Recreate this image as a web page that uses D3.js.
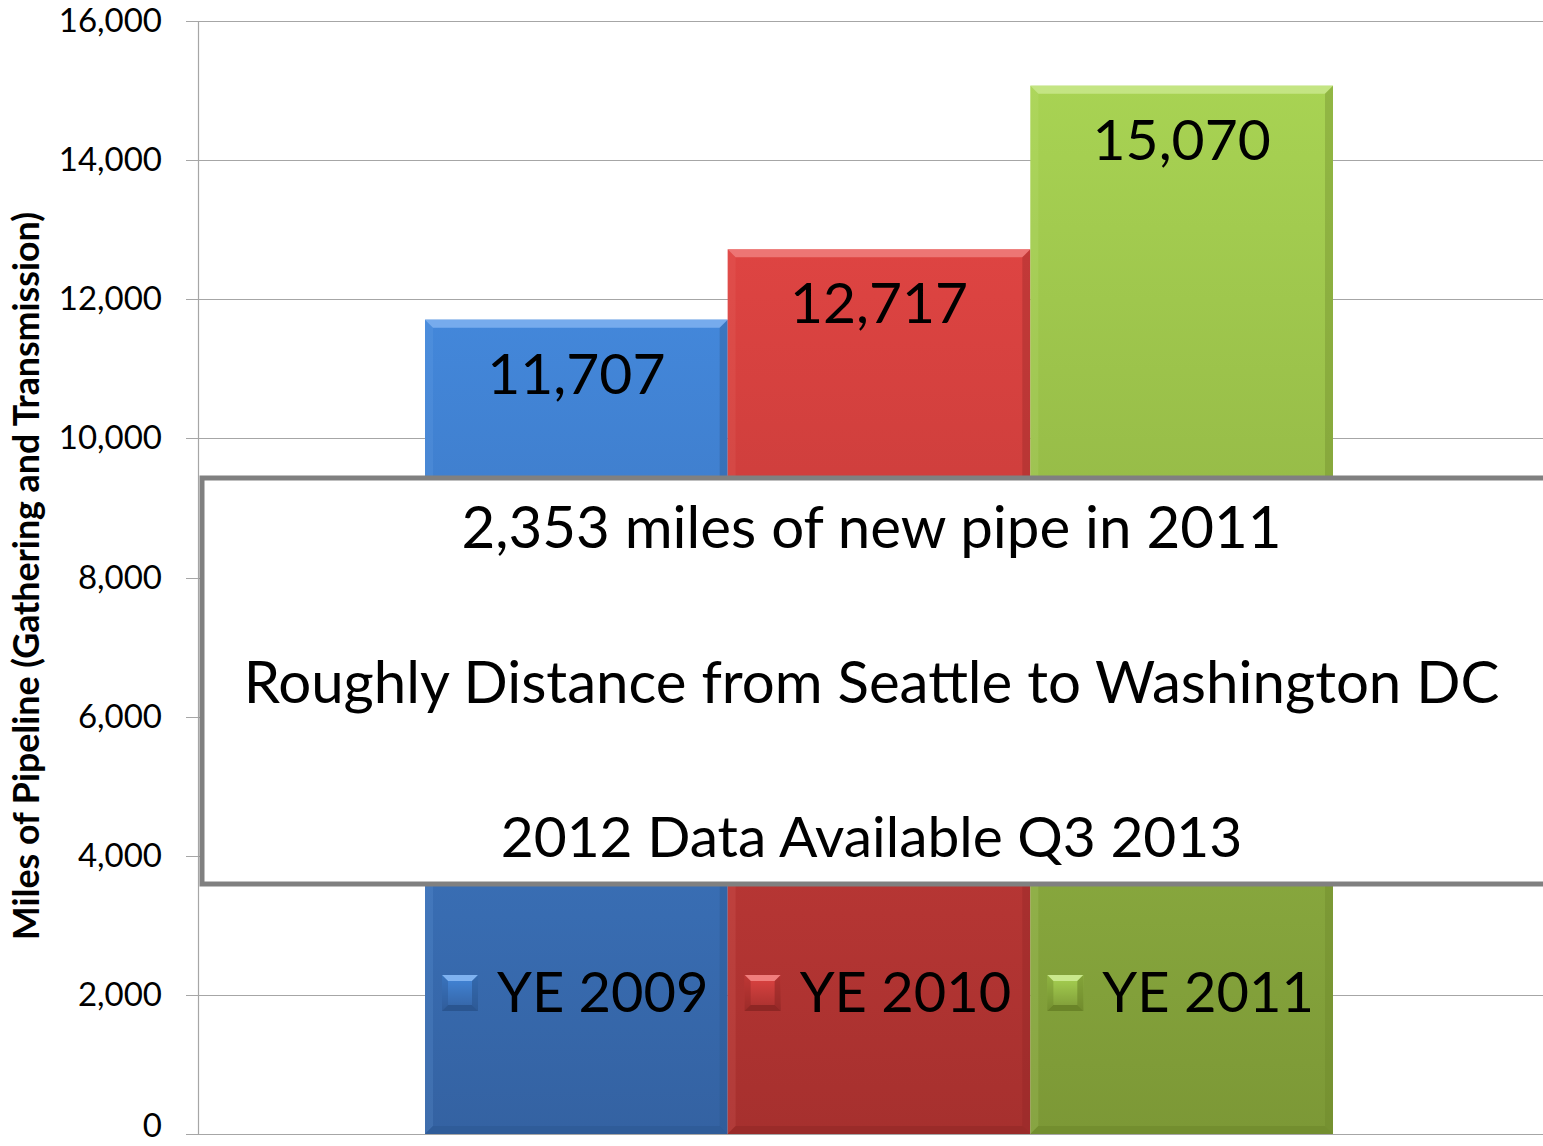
<html>
<head>
<meta charset="utf-8">
<style>
  body { margin: 0; background: #fff; }
  text { font-family: 'Lato', 'Open Sans', sans-serif; }
</style>
</head>
<body>
<svg id="svg"></svg>
<script src="https://cdnjs.cloudflare.com/ajax/libs/d3/7.8.5/d3.min.js"></script>
<script>

const series = ["YE 2009", "YE 2010", "YE 2011"];
const values = [11707, 12717, 15070];
const yTicks = [0, 2000, 4000, 6000, 8000, 10000, 12000, 14000, 16000];
const noteLines = ["2,353 miles of new pipe in 2011", "Roughly Distance from Seattle to Washington DC", "2012 Data Available Q3 2013"];
const yTitle = "Miles of Pipeline (Gathering and Transmission)";

// top / bottom / light / dark
const colors = [
  { top: "#4387da", bot: "#3462a2", light: "#7fb2f0", dark: "#2a5590" },
  { top: "#de4442", bot: "#a6302e", light: "#f07e7c", dark: "#8e2624" },
  { top: "#a8d353", bot: "#7c9836", light: "#c9e88c", dark: "#6a8428" }
];

const W = 1543, H = 1146;
const plotLeft = 198, plotRight = 1543, plotTop = 21, plotBottom = 1134;

const svg = d3.select("#svg").attr("width", W).attr("height", H);
const defs = svg.append("defs");

colors.forEach(function(c, i) {
  const g = defs.append("linearGradient").attr("id", "grad" + i)
    .attr("x1", 0).attr("y1", 0).attr("x2", 0).attr("y2", 1);
  g.append("stop").attr("offset", "0%").attr("stop-color", c.top);
  g.append("stop").attr("offset", "100%").attr("stop-color", c.bot);
});

const yScale = d3.scaleLinear().domain([0, 16000]).range([plotBottom, plotTop]);
const xScale = d3.scaleBand().domain(series).range([425, 1333]).padding(0);

// gridlines
svg.append("g").selectAll("line").data(yTicks).enter().append("line")
  .attr("x1", plotLeft - 12).attr("x2", plotRight)
  .attr("y1", function(d) { return Math.round(yScale(d)) + 0.5; })
  .attr("y2", function(d) { return Math.round(yScale(d)) + 0.5; })
  .attr("stroke", "#a6a6a6").attr("stroke-width", 1.2);

svg.append("line")
  .attr("x1", plotLeft + 0.5).attr("x2", plotLeft + 0.5)
  .attr("y1", yScale(16000)).attr("y2", yScale(0))
  .attr("stroke", "#a6a6a6").attr("stroke-width", 1.2);

// y tick labels
const fmt = d3.format(",");
svg.append("g").selectAll("text").data(yTicks).enter().append("text")
  .attr("x", 162).attr("y", function(d) { return Math.min(yScale(d) + 11, H - 9); })
  .attr("text-anchor", "end")
  .attr("font-size", 33)
  .attr("fill", "#000")
  .text(function(d) { return fmt(d); });

// y title
svg.append("text")
  .attr("transform", "translate(39,576) rotate(-90)")
  .attr("text-anchor", "middle")
  .attr("font-size", 30).attr("font-weight", "bold")
  .text(yTitle)
  .each(function() {
    const len = this.getComputedTextLength();
    d3.select(this).attr("font-size", 30 * 728 / len);
  });

// bars
const bev = 8;
const bars = svg.append("g").selectAll("g").data(values).enter().append("g");

bars.append("rect")
  .attr("x", function(d, i) { return xScale(series[i]); })
  .attr("y", function(d) { return yScale(d); })
  .attr("width", xScale.bandwidth())
  .attr("height", function(d) { return yScale(0) - yScale(d); })
  .attr("fill", function(d, i) { return "url(#grad" + i + ")"; });

// top bevel
bars.append("path")
  .attr("d", function(d, i) {
    const x0 = xScale(series[i]), x1 = x0 + xScale.bandwidth(), y0 = yScale(d);
    return "M" + x0 + "," + y0 + "L" + x1 + "," + y0 + "L" + (x1 - bev) + "," + (y0 + bev) + "L" + (x0 + bev) + "," + (y0 + bev) + "Z";
  })
  .attr("fill", function(d, i) { return colors[i].light; }).attr("opacity", 0.85);

// right bevel
bars.append("path")
  .attr("d", function(d, i) {
    const x1 = xScale(series[i]) + xScale.bandwidth(), y0 = yScale(d), yb = yScale(0);
    return "M" + x1 + "," + y0 + "L" + x1 + "," + yb + "L" + (x1 - bev) + "," + (yb - bev) + "L" + (x1 - bev) + "," + (y0 + bev) + "Z";
  })
  .attr("fill", function(d, i) { return colors[i].dark; }).attr("opacity", 0.35);

// left bevel
bars.append("path")
  .attr("d", function(d, i) {
    const x0 = xScale(series[i]), y0 = yScale(d), yb = yScale(0);
    return "M" + x0 + "," + y0 + "L" + (x0 + bev) + "," + (y0 + bev) + "L" + (x0 + bev) + "," + (yb - bev) + "L" + x0 + "," + yb + "Z";
  })
  .attr("fill", function(d, i) { return colors[i].light; }).attr("opacity", 0.15);

// bottom bevel
bars.append("path")
  .attr("d", function(d, i) {
    const x0 = xScale(series[i]), x1 = x0 + xScale.bandwidth(), yb = yScale(0);
    return "M" + x0 + "," + yb + "L" + (x0 + bev) + "," + (yb - bev) + "L" + (x1 - bev) + "," + (yb - bev) + "L" + x1 + "," + yb + "Z";
  })
  .attr("fill", function(d, i) { return colors[i].dark; }).attr("opacity", 0.5);

// value labels
bars.append("text")
  .attr("x", function(d, i) { return xScale(series[i]) + xScale.bandwidth() / 2; })
  .attr("y", function(d) { return yScale(d) + 74; })
  .attr("text-anchor", "middle")
  .attr("font-size", 57)
  .attr("fill", "#000")
  .text(function(d) { return fmt(d); });

// legend inside bars
const legend = svg.append("g").selectAll("g").data(series).enter().append("g")
  .attr("transform", function(d) { return "translate(" + (xScale(d) + 17) + ",975)"; });

legend.append("rect")
  .attr("width", 36).attr("height", 36)
  .attr("fill", function(d, i) { return "url(#grad" + i + ")"; });
legend.append("path")
  .attr("d", "M0,0L36,0L30,6L6,6Z")
  .attr("fill", function(d, i) { return colors[i].light; });
legend.append("path")
  .attr("d", "M0,36L36,36L30,30L6,30Z")
  .attr("fill", function(d, i) { return colors[i].dark; });
legend.append("path")
  .attr("d", "M36,0L36,36L30,30L30,6Z")
  .attr("fill", function(d, i) { return colors[i].dark; }).attr("opacity", 0.6);
legend.append("path")
  .attr("d", "M0,0L0,36L6,30L6,6Z")
  .attr("fill", function(d, i) { return colors[i].dark; }).attr("opacity", 0.4);

legend.append("text")
  .attr("x", 55).attr("y", 37)
  .attr("font-size", 56)
  .attr("fill", "#000")
  .text(function(d) { return d; });

// note box
const boxX = 202, boxY = 478, boxW = 1345, boxH = 406;
svg.append("rect")
  .attr("x", boxX).attr("y", boxY).attr("width", boxW).attr("height", boxH)
  .attr("fill", "#fff").attr("stroke", "#808080").attr("stroke-width", 5);

const noteBase = [548, 703, 857];
const noteWidth = [820, 1256, 742];
svg.append("g").selectAll("text").data(noteLines).enter().append("text")
  .attr("x", boxX + boxW / 2 - 3)
  .attr("y", function(d, i) { return noteBase[i]; })
  .attr("text-anchor", "middle")
  .attr("font-size", 56)
  .attr("fill", "#000")
  .text(function(d) { return d; })
  .each(function(d, i) {
    const len = this.getComputedTextLength();
    d3.select(this).attr("font-size", 56 * noteWidth[i] / len);
  });

</script>
</body>
</html>
